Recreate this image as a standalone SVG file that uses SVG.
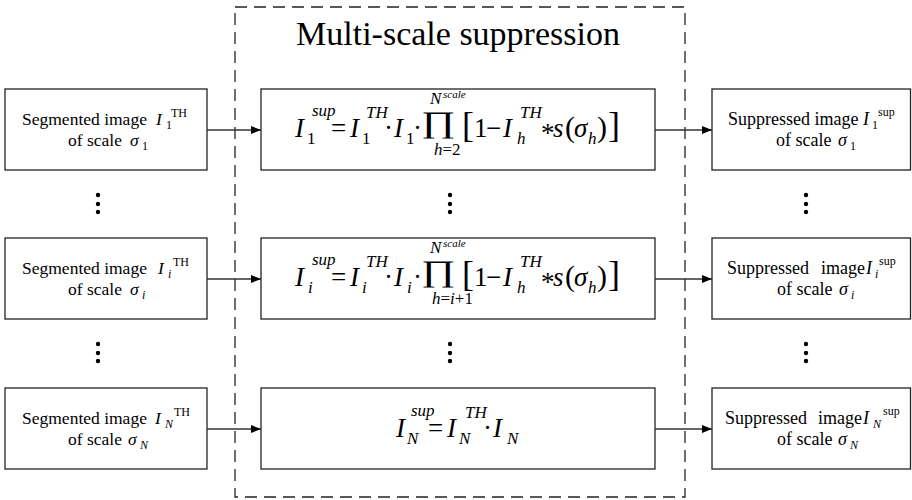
<svg xmlns="http://www.w3.org/2000/svg" width="912" height="500" viewBox="0 0 912 500">
<style>
text{font-family:"Liberation Serif","Times New Roman",serif;fill:#000}
.box{fill:#fff;stroke:#222;stroke-width:1.3}
.lbl{font-size:17.5px}
.rl{font-size:18px}
.it{font-style:italic}
.ss{font-size:12px}
.m{font-size:27px}
.ms{font-size:17px}
.mss{font-size:11px}
.big{font-size:36px}
.prod{font-size:30px}
.conn{stroke:#333;stroke-width:1.3;fill:none;marker-end:url(#ah)}
.dot{fill:#000}
</style>
<defs>
<marker id="ah" markerUnits="userSpaceOnUse" markerWidth="10" markerHeight="8" refX="10" refY="4" orient="auto">
<path d="M0,0 L10,4 L0,8 Z" fill="#000"/>
</marker>
</defs>
<rect id="frame" x="235" y="7" width="450" height="490" fill="none" stroke="#222" stroke-width="1.3" stroke-dasharray="12 7"/>
<text x="458" y="45" font-size="34" text-anchor="middle">Multi-scale suppression</text>

<g id="seg1">
<rect class="box" x="5" y="89" width="202" height="81"/>
<text class="lbl" x="22" y="125">Segmented image</text>
<text class="lbl it" x="156" y="125">I</text>
<text class="ss" x="166" y="129">1</text>
<text class="ss" x="171" y="117">TH</text>
<text class="lbl" x="68" y="146">of scale</text>
<text class="lbl it" x="130" y="146">σ</text>
<text class="ss" x="142" y="150">1</text>
</g>
<g id="seg2">
<rect class="box" x="5" y="238" width="202" height="81"/>
<text class="lbl" x="22" y="274">Segmented image</text>
<text class="lbl it" x="158" y="274">I</text>
<text class="ss it" x="168" y="278">i</text>
<text class="ss" x="173" y="266">TH</text>
<text class="lbl" x="68" y="295">of scale</text>
<text class="lbl it" x="130" y="295">σ</text>
<text class="ss it" x="142" y="299">i</text>
</g>
<g id="seg3">
<rect class="box" x="5" y="388" width="202" height="81"/>
<text class="lbl" x="22" y="424">Segmented image</text>
<text class="lbl it" x="155" y="424">I</text>
<text class="ss it" x="165" y="428">N</text>
<text class="ss" x="174" y="416">TH</text>
<text class="lbl" x="68" y="445">of scale</text>
<text class="lbl it" x="128" y="445">σ</text>
<text class="ss it" x="140" y="449">N</text>
</g>

<g id="sup1">
<rect class="box" x="712" y="89" width="198.5" height="81"/>
<text class="rl" x="728" y="125">Suppressed image</text>
<text class="rl it" x="863" y="125">I</text>
<text class="ss" x="872" y="129">1</text>
<text class="ss" x="878" y="116">sup</text>
<text class="rl" x="776" y="146">of scale</text>
<text class="rl it" x="838" y="146">σ</text>
<text class="ss" x="850" y="150">1</text>
</g>
<g id="sup2">
<rect class="box" x="712" y="238" width="198.5" height="81"/>
<text class="rl" x="727" y="274">Suppressed<tspan x="821">image</tspan></text>
<text class="rl it" x="866" y="274">I</text>
<text class="ss it" x="875" y="278">i</text>
<text class="ss" x="879" y="265">sup</text>
<text class="rl" x="777" y="295">of scale</text>
<text class="rl it" x="839" y="295">σ</text>
<text class="ss it" x="851" y="299">i</text>
</g>
<g id="sup3">
<rect class="box" x="712" y="388" width="198.5" height="81"/>
<text class="rl" x="725" y="424">Suppressed<tspan x="818">image</tspan></text>
<text class="rl it" x="863" y="424">I</text>
<text class="ss it" x="873" y="428">N</text>
<text class="ss" x="883" y="415">sup</text>
<text class="rl" x="777" y="445">of scale</text>
<text class="rl it" x="838" y="445">σ</text>
<text class="ss it" x="850" y="449">N</text>
</g>

<g id="eq1">
<rect class="box" x="261" y="89" width="394" height="81"/>
<text class="m it" x="295" y="137">I</text>
<text class="ms" x="307" y="144">1</text>
<text class="ms it" x="312" y="116">sup</text>
<text class="m" x="331" y="137">=</text>
<text class="m it" x="350" y="137">I</text>
<text class="ms" x="362" y="144">1</text>
<text class="ms it" x="366" y="118">TH</text>
<text class="m" x="384" y="137">·</text>
<text class="m it" x="394" y="137">I</text>
<text class="ms" x="406" y="144">1</text>
<text class="m" x="413" y="137">·</text>
<text class="prod" transform="translate(421,132) scale(1.4,1)">∏</text>
<text class="ms it" x="430" y="104">N</text>
<text class="mss it" x="443" y="98">scale</text>
<text class="ms it" x="434" y="155">h<tspan font-style="normal">=2</tspan></text>
<text class="big" x="462" y="137">[</text>
<text class="m" x="474" y="137">1</text>
<text class="m" x="486" y="137">−</text>
<text class="m it" x="503" y="137">I</text>
<text class="ms it" x="517" y="144">h</text>
<text class="ms it" x="520" y="118">TH</text>
<text class="m" x="541" y="142">*</text>
<text class="m it" x="553" y="137">s</text>
<text x="565" y="137" font-size="30">(</text>
<text class="m it" x="574" y="137">σ</text>
<text class="ms it" x="588" y="144">h</text>
<text x="597" y="137" font-size="30">)</text>
<text class="big" x="608" y="137">]</text>
</g>
<g id="eq2">
<rect class="box" x="261" y="238" width="394" height="81"/>
<text class="m it" x="295" y="286">I</text>
<text class="ms it" x="308" y="293">i</text>
<text class="ms it" x="312" y="265">sup</text>
<text class="m" x="331" y="286">=</text>
<text class="m it" x="350" y="286">I</text>
<text class="ms it" x="362" y="293">i</text>
<text class="ms it" x="366" y="267">TH</text>
<text class="m" x="384" y="286">·</text>
<text class="m it" x="394" y="286">I</text>
<text class="ms it" x="407" y="293">i</text>
<text class="m" x="413" y="286">·</text>
<text class="prod" transform="translate(421,281) scale(1.4,1)">∏</text>
<text class="ms it" x="430" y="253">N</text>
<text class="mss it" x="443" y="247">scale</text>
<text class="ms it" x="432" y="304">h<tspan font-style="normal">=</tspan>i<tspan font-style="normal">+1</tspan></text>
<text class="big" x="462" y="286">[</text>
<text class="m" x="474" y="286">1</text>
<text class="m" x="486" y="286">−</text>
<text class="m it" x="503" y="286">I</text>
<text class="ms it" x="517" y="293">h</text>
<text class="ms it" x="520" y="267">TH</text>
<text class="m" x="541" y="291">*</text>
<text class="m it" x="553" y="286">s</text>
<text x="565" y="286" font-size="30">(</text>
<text class="m it" x="574" y="286">σ</text>
<text class="ms it" x="588" y="293">h</text>
<text x="597" y="286" font-size="30">)</text>
<text class="big" x="608" y="286">]</text>
</g>
<g id="eq3">
<rect class="box" x="261" y="388" width="394" height="81"/>
<text class="m it" x="396" y="437">I</text>
<text class="ms it" x="407" y="444">N</text>
<text class="ms it" x="411" y="416">sup</text>
<text class="m" x="428" y="437">=</text>
<text class="m it" x="447" y="437">I</text>
<text class="ms it" x="459" y="444">N</text>
<text class="ms it" x="465" y="418">TH</text>
<text class="m" x="483" y="437">·</text>
<text class="m it" x="493" y="437">I</text>
<text class="ms it" x="507" y="444">N</text>
</g>

<g id="dots">
<circle class="dot" cx="98" cy="195" r="2.2"/><circle class="dot" cx="98" cy="204" r="2.2"/><circle class="dot" cx="98" cy="212" r="2.2"/>
<circle class="dot" cx="450" cy="195" r="2.2"/><circle class="dot" cx="450" cy="204" r="2.2"/><circle class="dot" cx="450" cy="212" r="2.2"/>
<circle class="dot" cx="806" cy="195" r="2.2"/><circle class="dot" cx="806" cy="204" r="2.2"/><circle class="dot" cx="806" cy="212" r="2.2"/>
<circle class="dot" cx="98" cy="344" r="2.2"/><circle class="dot" cx="98" cy="353" r="2.2"/><circle class="dot" cx="98" cy="361" r="2.2"/>
<circle class="dot" cx="450" cy="344" r="2.2"/><circle class="dot" cx="450" cy="353" r="2.2"/><circle class="dot" cx="450" cy="361" r="2.2"/>
<circle class="dot" cx="806" cy="344" r="2.2"/><circle class="dot" cx="806" cy="353" r="2.2"/><circle class="dot" cx="806" cy="361" r="2.2"/>
</g>

<g id="connectors">
<line class="conn" x1="207" y1="130" x2="261" y2="130"/>
<line class="conn" x1="655" y1="130" x2="712" y2="130"/>
<line class="conn" x1="207" y1="279" x2="261" y2="279"/>
<line class="conn" x1="655" y1="279" x2="712" y2="279"/>
<line class="conn" x1="207" y1="429" x2="261" y2="429"/>
<line class="conn" x1="655" y1="429" x2="712" y2="429"/>
</g>
</svg>
